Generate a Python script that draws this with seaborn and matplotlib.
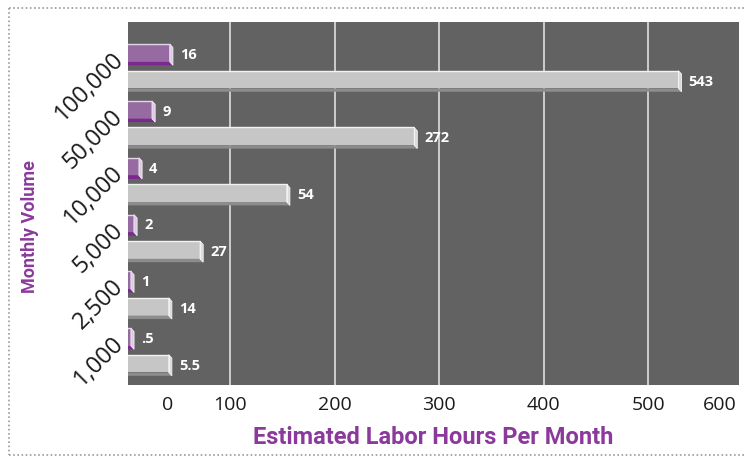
import matplotlib
matplotlib.use("Agg")
import matplotlib.pyplot as plt
import matplotlib.transforms as mtransforms
import seaborn as sns
import pandas as pd
from matplotlib.patches import Polygon
from matplotlib.lines import Line2D

# --- data (bar lengths as drawn, labels as printed) ---
volumes = ["100,000", "50,000", "10,000", "5,000", "2,500", "1,000"]
purple_len = [42, 25, 12.5, 7.7, 4.8, 4.8]
gray_len = [529, 276, 154, 71, 41, 41]
purple_txt = ["16", "9", "4", "2", "1", ".5"]
gray_txt = ["543", "272", "54", "27", "14", "5.5"]
grid_pos = [100, 200, 300, 400, 500]
tick_pos = [40, 100, 200, 300, 400, 500, 569]
tick_txt = ["0", "100", "200", "300", "400", "500", "600"]

PURPLE = "#9b62aa"
GRAY = "#c6c6c6"
BG = "#626262"
LABEL_PURPLE = "#8b3a9c"

df = pd.concat([
    pd.DataFrame({"volume": volumes, "hours": purple_len, "series": "small"}),
    pd.DataFrame({"volume": volumes, "hours": gray_len, "series": "large"}),
])

sns.set_style("white")
plt.rcParams["font.family"] = ["Open Sans", "DejaVu Sans"]

fig = plt.figure(figsize=(7.46, 4.57), dpi=100)
ax = fig.add_axes([128 / 746, (457 - 385) / 457, (739 - 128) / 746, 363 / 457])
ax.set_facecolor(BG)

sns.barplot(data=df, x="hours", y="volume", hue="series", orient="h",
            order=volumes, hue_order=["small", "large"],
            palette={"small": PURPLE, "large": GRAY},
            width=0.933, gap=0.333, dodge=True, legend=False,
            linewidth=0, ax=ax, zorder=3)

ax.set_xlim(2, 587)
ax.set_ylim(5.61, -0.779)

# 3d look: depth faces derived from each bar
dx = 3.0
dy = 0.06
styles = {PURPLE: ("#7d2891", "#dcc8e4", "#e6d6ec"), GRAY: ("#8c8c8c", "#dadada", "#f2f2f2")}
bars = list(ax.patches)
for i, bar in enumerate(bars):
    x0, y0, w, h = bar.get_x(), bar.get_y(), bar.get_width(), bar.get_height()
    face = PURPLE if i < len(volumes) else GRAY
    dark, side, hi = styles[face]
    yb = y0 + h
    ax.add_patch(Polygon([(x0, yb), (x0 + w, yb), (x0 + w + dx, yb + dy), (x0, yb + dy)],
                         closed=True, facecolor=dark, edgecolor="none", zorder=3))
    ax.add_patch(Polygon([(x0 + w, y0), (x0 + w + dx, y0 + dy), (x0 + w + dx, yb + dy), (x0 + w, yb)],
                         closed=True, facecolor=side, edgecolor="#f4f4f4", linewidth=0.6, zorder=3))
    ax.plot([x0, x0 + w], [y0, y0], color=hi, linewidth=1.0, zorder=4, solid_capstyle="butt")
    ax.plot([x0 + w, x0 + w], [y0, yb], color=hi, linewidth=0.8, zorder=4)
    txt = (purple_txt + gray_txt)[i]
    ax.annotate(txt, (x0 + w + dx, y0 + h / 2), xytext=(7, -2), textcoords="offset pixels",
                ha="left", va="center", color="white", fontsize=10.5, fontweight="bold",
                zorder=5)

# gridlines on minor ticks, labels on major ticks (offset like the original)
ax.xaxis.remove_overlapping_locs = False
ax.set_xticks(tick_pos)
ax.set_xticklabels(tick_txt, fontsize=14, color="#1a1a1a")
ax.set_xticks(grid_pos, minor=True)
ax.xaxis.grid(True, which="minor", color="#dedede", linewidth=1.2, zorder=1)
ax.xaxis.grid(False, which="major")
ax.set_axisbelow(True)
ax.tick_params(axis="x", which="both", length=0, pad=8)

ax.set_yticks(range(len(volumes)))
ax.set_yticklabels(volumes, rotation=45, ha="right", va="center",
                   rotation_mode="anchor", fontsize=17, color="#1a1a1a")
ax.tick_params(axis="y", length=0, pad=6)
shift = mtransforms.ScaledTranslation(0, 10 / 100, fig.dpi_scale_trans)
for lab in ax.get_yticklabels():
    lab.set_transform(lab.get_transform() + shift)

for s in ax.spines.values():
    s.set_visible(False)

ax.set_xlabel("")
ax.set_ylabel("")
fig.text(433 / 746, 1 - 438 / 457, "Estimated Labor Hours Per Month", ha="center", va="center",
         fontsize=17, fontweight="bold", color=LABEL_PURPLE, family=["Roboto", "DejaVu Sans"])
fig.text(30 / 746, 1 - 227 / 457, "Monthly Volume", ha="center", va="center", rotation=90,
         fontsize=13, fontweight="bold", color=LABEL_PURPLE, family=["Roboto", "DejaVu Sans"])

# dotted frame
dot = dict(color="#9a9a9a", linestyle=(0, (1, 1.5)), linewidth=1.2, transform=fig.transFigure)
fig.add_artist(Line2D([9 / 746, 746 / 746], [1 - 8 / 457, 1 - 8 / 457], **dot))
fig.add_artist(Line2D([9 / 746, 9 / 746], [1 - 8 / 457, 1 - 455 / 457], **dot))
fig.add_artist(Line2D([9 / 746, 746 / 746], [1 - 455 / 457, 1 - 455 / 457], **dot))

fig.savefig("out.png", dpi=100, facecolor="white")
